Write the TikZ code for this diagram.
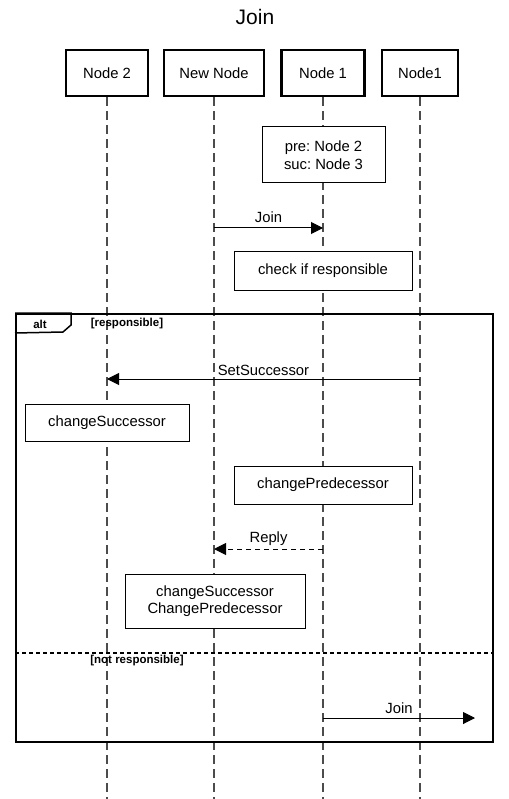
\documentclass[tikz,border=0pt]{standalone}
\usepackage{fontspec}
\setmainfont{Liberation Sans}
\usetikzlibrary{arrows.meta}
\frenchspacing

\begin{document}
\begin{tikzpicture}[x=1pt, y=-1pt, every node/.style={font=\fontsize{14.8}{17.5}\selectfont},
    head/.style={draw, line width=2.4pt, fill=white, minimum height=46pt, inner sep=0pt},
    actbox/.style={draw, line width=1pt, fill=white, align=center, inner sep=0pt},
    lifeline/.style={gray!60!black, line width=1.5pt, dash pattern=on 9pt off 5pt},
    msg/.style={line width=1pt, -{Triangle[length=12pt, width=12pt]}},
    guard/.style={font=\bfseries\fontsize{11.5}{13}\selectfont}]
    \useasboundingbox (0,0) rectangle (508,799);
    \node (title) at (255,17) {\fontsize{21}{25}\selectfont Join};
    % participants
    \node[head, minimum width=82pt] (nodetwo) at (107,73) {Node 2};
    \node[head, minimum width=100pt] (newnode) at (214,73) {New Node};
    \node[head, minimum width=83pt] (nodeone) at (323,73) {Node 1};
    \node[head, minimum width=76pt] (nodeonex) at (420,73) {Node1};
    \foreach \p in {nodetwo, newnode, nodeone, nodeonex} {
        \coordinate (\p end) at (\p.south |- 0,799);
        \draw[lifeline] (\p.south) -- (\p end);
    }
    % notes and activities
    \node[actbox, minimum width=123pt, minimum height=56pt] (state) at (323.5,155) {pre: Node 2\\suc: Node 3};
    \draw[msg] (newnode.south |- 0,228) -- node[above, yshift=2pt] (joinlbl) {Join} (nodeone.south |- 0,228);
    \node[actbox, minimum width=178pt, minimum height=38pt] (check) at (323,271) {check if responsible};
    % alt fragment
    \node[draw, line width=2pt, minimum width=477pt, minimum height=428pt, inner sep=0pt] (alt) at (254.5,528) {};
    \draw[line width=1.5pt] (alt.north west) -- ++(56,0) -- ++(0,12) -- ++(-8,7) -- (alt.north west |- 0,333);
    \node[guard] (altlbl) at (40,324) {alt};
    \node[guard] (resp) at (127,324) {[responsible]};
    \draw[msg] (nodeonex.south |- 0,379) -- node[above, yshift=0pt] (setlbl) {SetSuccessor} (nodetwo.south |- 0,379);
    \node[actbox, minimum width=164pt, minimum height=37pt] (chsucc) at (107,423) {changeSuccessor};
    \node[actbox, minimum width=178pt, minimum height=38pt] (chpred) at (323,485) {changePredecessor};
    \draw[msg, dash pattern=on 5pt off 4pt] (nodeone.south |- 0,549) -- node[above, yshift=0pt] (replylbl) {Reply} (newnode.south |- 0,549);
    \node[actbox, minimum width=180pt, minimum height=54pt] (chboth) at (215,601) {changeSuccessor\\ChangePredecessor};
    \draw[line width=2pt, dash pattern=on 4pt off 3pt] (alt.west |- 0,653) -- (alt.east |- 0,653);
    \node[guard] (notresp) at (137,661) {[not responsible]};
    \coordinate (joinend) at (475,718);
    \draw[msg] (nodeone.south |- 0,718) -- (joinend) node[pos=0.5, above, yshift=1pt] (join2lbl) {Join};
\end{tikzpicture}
\end{document}
